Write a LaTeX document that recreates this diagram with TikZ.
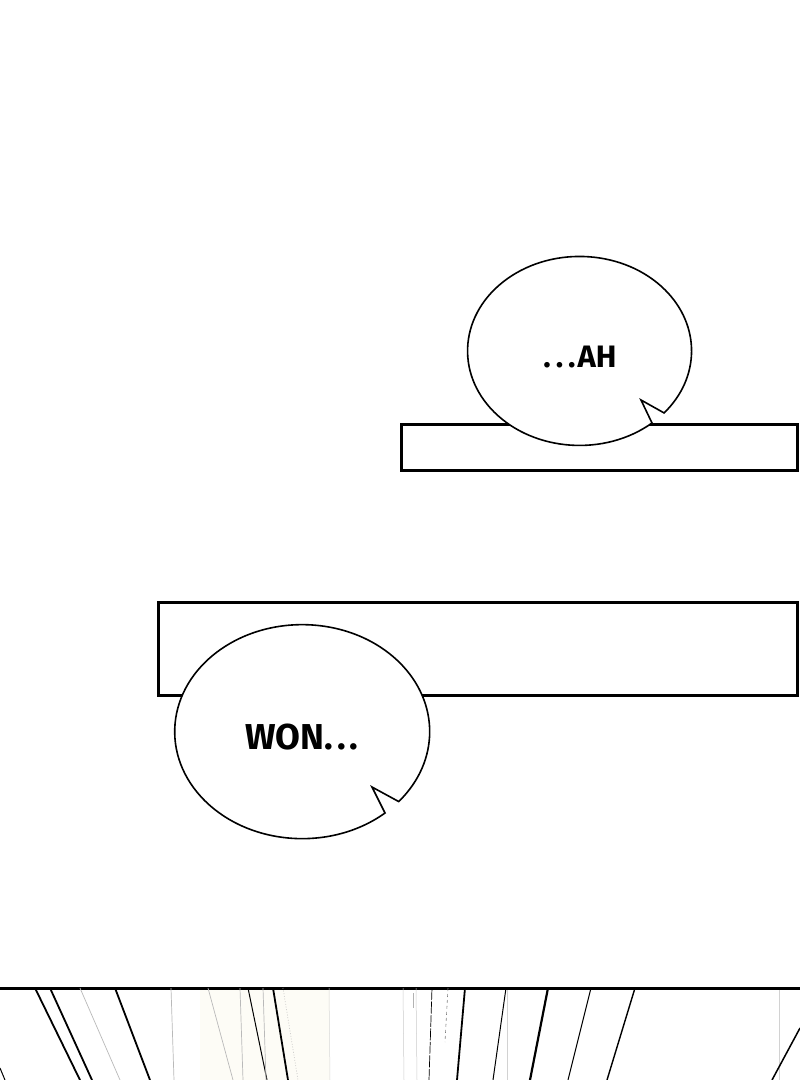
\documentclass[tikz,border=0pt]{standalone}
\usepackage{fontspec}
\setmainfont{Fira Sans}
\definecolor{cream}{RGB}{253,252,246}
\begin{document}
\begin{tikzpicture}[x=1pt,y=1pt,
  panelbox/.style={draw=black,line width=3pt,fill=white},
  bubble/.style={draw=black,line width=1.6pt,fill=white,line join=miter},
  ink/.style={black,line width=1.8pt},
  thinink/.style={black,line width=1pt},
  grayline/.style={gray!55,line width=0.7pt},
  bubbletext/.style={font=\fontsize{#1}{#1}\selectfont\bfseries,inner sep=0pt}]
\useasboundingbox (0,0) rectangle (800,-1080);
\fill[white] (0,0) rectangle (800,-1080);
\fill[cream] (200,-990) rectangle (330,-1080);
% upper caption box and bubble
\draw[panelbox] (401,-424) rectangle (797,-470);
\draw[bubble] (652,-423) arc[start angle=-49.7,end angle=-401,x radius=112pt,y radius=94.5pt] -- (641,-400) -- cycle;
\node[bubbletext=31] (ah) at (580,-357) {.\kern5pt.\kern5pt.\kern2pt AH};
% lower caption box and bubble
\draw[panelbox] (158,-602) rectangle (797,-695);
\draw[bubble] (385,-813) arc[start angle=-49.5,end angle=-400.8,x radius=127.5pt,y radius=107pt] -- (372,-787) -- cycle;
\node[bubbletext=36] (won) at (302,-737) {WON.\kern4pt.\kern4pt.};
% bottom panel border
\draw[black,line width=3pt] (0,-988) -- (800,-988);
% speed lines
\draw[ink] (35,-988) -- (80,-1080);
\draw[ink] (50,-988) -- (92,-1080);
\draw[grayline] (80,-988) -- (120,-1080);
\draw[ink] (115,-988) -- (150,-1080);
\draw[grayline] (171,-988) -- (174,-1080);
\draw[grayline] (208,-988) -- (233,-1080);
\draw[grayline] (240,-988) -- (243,-1080);
\draw[thinink] (248,-988) -- (267,-1080);
\draw[grayline] (263,-988) -- (266,-1080);
\draw[ink] (273,-988) -- (288,-1080);
\draw[grayline,dotted] (283,-988) -- (298,-1080);
\draw[gray!30,line width=0.5pt] (329,-988) -- (330,-1080);
\draw[thinink] (0,-1068) -- (5,-1080);
\draw[gray!40,line width=0.5pt] (403,-988) -- (404,-1080);
\draw[gray!60,line width=0.8pt] (413,-993) -- (413,-1008);
\draw[gray!40,line width=0.5pt] (416,-988) -- (417,-1080);
\draw[black,line width=0.7pt,dash pattern=on 12pt off 1.5pt] (432,-988) -- (429,-1080);
\draw[gray,line width=0.6pt,dash pattern=on 3pt off 3pt] (448,-988) -- (445,-1042);
\draw[ink] (465,-988) -- (457,-1080);
\draw[thinink] (506,-988) -- (493,-1080);
\draw[gray!35,line width=0.5pt] (507,-990) -- (507,-1080);
\draw[ink,line width=2.2pt] (548,-988) -- (530,-1080);
\draw[thinink] (591,-988) -- (568,-1080);
\draw[ink,line width=1.4pt] (635,-988) -- (607,-1080);
\draw[gray!35,line width=0.5pt] (779,-990) -- (779,-1080);
\draw[ink,line width=1.5pt] (800,-1028) -- (772,-1080);
\end{tikzpicture}
\end{document}
